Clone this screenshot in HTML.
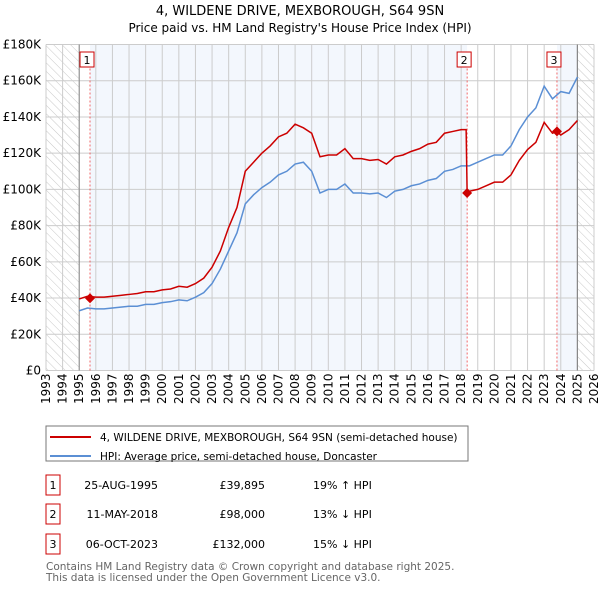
<!DOCTYPE html>
<html><head><meta charset="utf-8"><style>
body{margin:0;background:#fff;font-family:"Liberation Sans","DejaVu Sans",sans-serif;}
svg text{font-family:"DejaVu Sans","Liberation Sans",sans-serif;}
</style></head><body>
<svg id="c" width="600" height="590" xmlns="http://www.w3.org/2000/svg">
<defs><pattern id="h" width="6" height="6" patternUnits="userSpaceOnUse" patternTransform="rotate(-45)"><line x1="0" y1="0" x2="0" y2="6" stroke="#bbb" stroke-width="0.8"/></pattern></defs>
<text x="300" y="15" text-anchor="middle" font-size="13">4, WILDENE DRIVE, MEXBOROUGH, S64 9SN</text>
<text x="300" y="32" text-anchor="middle" font-size="12">Price paid vs. HM Land Registry's House Price Index (HPI)</text>
<g id="plot"></g>
<rect x="46" y="426" width="422" height="35" fill="#fff" stroke="#777"/>
<line x1="50" y1="437" x2="91" y2="437" stroke="#cc0000" stroke-width="2"/>
<text x="100" y="441" font-size="10.5">4, WILDENE DRIVE, MEXBOROUGH, S64 9SN (semi-detached house)</text>
<line x1="50" y1="456" x2="91" y2="456" stroke="#5b8fd4" stroke-width="2"/>
<text x="100" y="460" font-size="10.5">HPI: Average price, semi-detached house, Doncaster</text>
<g font-size="11">
<rect x="46" y="475" width="14" height="20" fill="#fff" stroke="#cc0000"/><text x="53" y="489" text-anchor="middle">1</text>
<text x="158" y="489" text-anchor="end">25-AUG-1995</text><text x="265" y="489" text-anchor="end">£39,895</text><text x="313" y="489">19% ↑ HPI</text>
<rect x="46" y="504" width="14" height="20" fill="#fff" stroke="#cc0000"/><text x="53" y="518" text-anchor="middle">2</text>
<text x="158" y="518" text-anchor="end">11-MAY-2018</text><text x="265" y="518" text-anchor="end">£98,000</text><text x="313" y="518">13% ↓ HPI</text>
<rect x="46" y="534" width="14" height="20" fill="#fff" stroke="#cc0000"/><text x="53" y="548" text-anchor="middle">3</text>
<text x="158" y="548" text-anchor="end">06-OCT-2023</text><text x="265" y="548" text-anchor="end">£132,000</text><text x="313" y="548">15% ↓ HPI</text>
</g>
<text x="46" y="570" font-size="10.5" fill="#666">Contains HM Land Registry data © Crown copyright and database right 2025.</text>
<text x="46" y="581" font-size="10.5" fill="#666">This data is licensed under the Open Government Licence v3.0.</text>
</svg>
<script>
const hpiYears=[1995,1995.5,1996,1996.5,1997,1997.5,1998,1998.5,1999,1999.5,2000,2000.5,2001,2001.5,2002,2002.5,2003,2003.5,2004,2004.5,2005,2005.5,2006,2006.5,2007,2007.5,2008,2008.5,2009,2009.5,2010,2010.5,2011,2011.5,2012,2012.5,2013,2013.5,2014,2014.5,2015,2015.5,2016,2016.5,2017,2017.5,2018,2018.5,2019,2019.5,2020,2020.5,2021,2021.5,2022,2022.5,2023,2023.5,2024,2024.5,2025];
const hpiValues=[33,34.5,34,34,34.5,35,35.5,35.5,36.5,36.5,37.5,38,39,38.5,40.5,43,48,56,66,76,92,97,101,104,108,110,114,115,110,98,100,100,103,98,98,97.5,98,95.5,99,100,102,103,105,106,110,111,113,113,115,117,119,119,124,133,140,145,157,150,154,153,162];
const redYears=[1995,1995.5,1996,1996.5,1997,1997.5,1998,1998.5,1999,1999.5,2000,2000.5,2001,2001.5,2002,2002.5,2003,2003.5,2004,2004.5,2005,2005.5,2006,2006.5,2007,2007.5,2008,2008.5,2009,2009.5,2010,2010.5,2011,2011.5,2012,2012.5,2013,2013.5,2014,2014.5,2015,2015.5,2016,2016.5,2017,2017.5,2018,2018.3,2018.36,2018.5,2019,2019.5,2020,2020.5,2021,2021.5,2022,2022.5,2023,2023.5,2023.77,2024,2024.5,2025];
const redValues=[39.5,41,40.5,40.5,41,41.5,42,42.5,43.5,43.5,44.5,45,46.5,46,48,51,57,66,79,90,110,115,120,124,129,131,136,134,131,118,119,119,122.5,117,117,116,116.5,114,118,119,121,122.5,125,126,131,132,133,133,98,99,100,102,104,104,108,116,122,126,137,131,132,130,133,138];
const saleYears=[1995.65,2018.36,2023.77];
const saleValues=[39.895,98,132];
const saleLabels=["1","2","3"];
const yTicks=[0,20,40,60,80,100,120,140,160,180];
const yTickLabels=["£0","£20K","£40K","£60K","£80K","£100K","£120K","£140K","£160K","£180K"];
const xStart=1993,xEnd=2026;
const L=46,R=594,T=44.5,B=370.5;
const X=y=>L+(y-xStart)/(xEnd-xStart)*(R-L);
const Y=v=>B-v/180*(B-T);
const NS="http://www.w3.org/2000/svg";
const g=document.getElementById('plot');
function mk(t,a){const e=document.createElementNS(NS,t);for(const k in a)e.setAttribute(k,a[k]);g.appendChild(e);return e;}
let e;
e=mk('rect',{x:L,y:T,width:R-L,height:B-T,fill:'#fff'});


e=mk('rect',{x:X(saleYears[0]),y:T,width:X(saleYears[1])-X(saleYears[0]),height:B-T,fill:'#eef3fc',opacity:0.7});


e=mk('rect',{x:X(saleYears[2]),y:T,width:X(2025)-X(saleYears[2]),height:B-T,fill:'#eef3fc',opacity:0.7});


e=mk('rect',{x:L,y:T,width:X(1995)-L,height:B-T,fill:'url(#h)'});


e=mk('rect',{x:X(2025),y:T,width:R-X(2025),height:B-T,fill:'url(#h)'});


for(let yr=xStart;yr<=xEnd;yr++){
 e=mk('line',{x1:X(yr),y1:T,x2:X(yr),y2:B,stroke:'#ccc','stroke-width':1});
 
 
 const tx=X(yr)+4;
 e=mk('text',{x:tx,y:B+3,'font-size':12,'text-anchor':'end',transform:`rotate(-90 ${tx} ${B+3})`});
 e.textContent=String(yr);
 
 
}
yTicks.forEach((v,i)=>{
 e=mk('line',{x1:L,y1:Y(v),x2:R,y2:Y(v),stroke:'#ccc','stroke-width':1});
 
 
 e=mk('text',{x:L-5,y:Y(v)+4,'font-size':12,'text-anchor':'end'});
 e.textContent=yTickLabels[i];
 
 
});
e=mk('line',{x1:X(1995),y1:T,x2:X(1995),y2:B,stroke:'#888','stroke-width':1});


e=mk('line',{x1:X(2025),y1:T,x2:X(2025),y2:B,stroke:'#888','stroke-width':1.2});


saleYears.forEach((yr,i)=>{
 e=mk('line',{x1:X(yr),y1:T+20,x2:X(yr),y2:B,stroke:'#e44','stroke-width':0.8,'stroke-dasharray':'2,2'});
 
 
});
e=mk('polyline',{points:hpiYears.map((y,i)=>X(y)+','+Y(hpiValues[i])).join(' '),fill:'none',stroke:'#5b8fd4','stroke-width':1.5});


e=mk('polyline',{points:redYears.map((y,i)=>X(y)+','+Y(redValues[i])).join(' '),fill:'none',stroke:'#cc0000','stroke-width':1.5});


saleYears.forEach((yr,i)=>{
 const cx=X(yr),cy=Y(saleValues[i]);
 e=mk('polygon',{points:`${cx},${cy-5} ${cx+5},${cy} ${cx},${cy+5} ${cx-5},${cy}`,fill:'#cc0000'});
 
 
 e=mk('rect',{x:cx-10,y:52,width:14,height:15,fill:'#fff',stroke:'#cc0000','stroke-width':1});
 
 
 e=mk('text',{x:cx-3,y:64,'font-size':11,'text-anchor':'middle'});
 e.textContent=saleLabels[i];
 
 
});
</script>
</body></html>
